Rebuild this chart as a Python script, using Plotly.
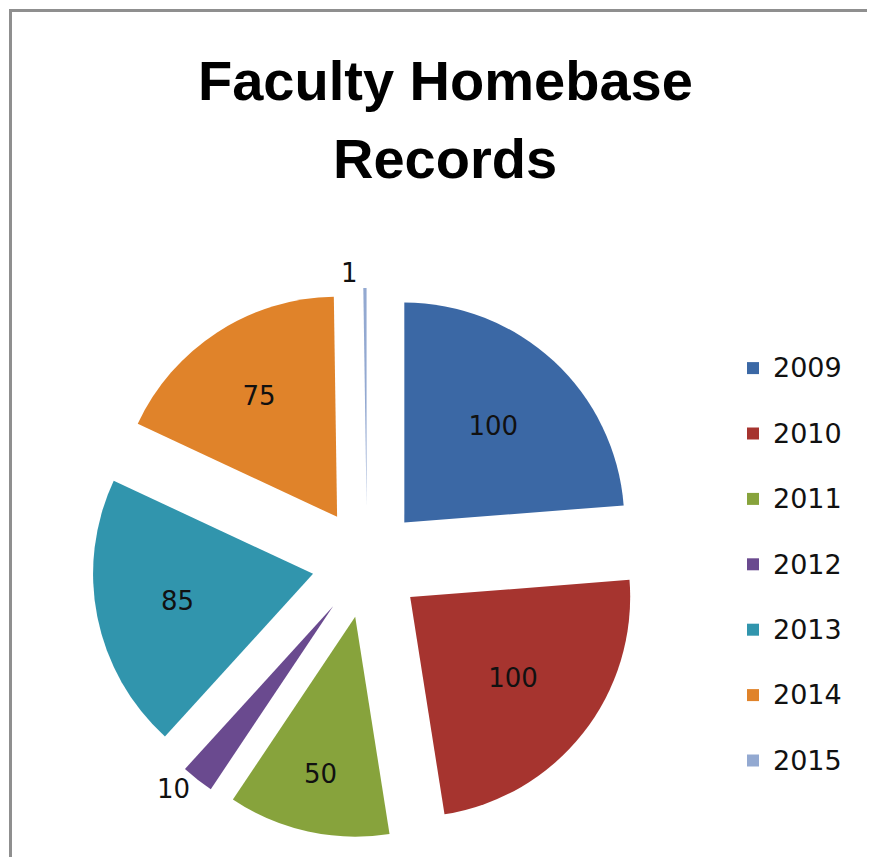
import plotly.graph_objects as go

years = ["2009", "2010", "2011", "2012", "2013", "2014", "2015"]
records = [100, 100, 50, 10, 85, 75, 1]
colors = ["#3B68A5", "#A6342F", "#87A33C", "#6A4A8F", "#3195AD", "#E0832A", "#93A9D1"]
label_pos = ["inside", "inside", "inside", "outside", "inside", "inside", "outside"]

# page body has an 8px margin, so the figure is sized to fit the window without scrolling
OFF = 8
W, H = 875 - OFF, 865 - 2 * OFF


def fx(px):
    return (px - OFF) / W


def fy(py):
    return 1 - (py - OFF) / H


legend_labels = [f"<span style='font-size:27px'>{y}</span><br> " for y in years]

fig = go.Figure(go.Pie(
    labels=legend_labels,
    values=records,
    sort=False,
    direction="clockwise",
    rotation=0,
    pull=0.25,
    marker=dict(colors=colors, line=dict(width=0)),
    textinfo="value",
    textposition=label_pos,
    insidetextorientation="horizontal",
    textfont=dict(family="DejaVu Sans", size=26, color="#111111"),
    insidetextfont=dict(family="DejaVu Sans", size=26, color="#111111"),
    outsidetextfont=dict(family="DejaVu Sans", size=26, color="#111111"),
    hoverinfo="label+value",
    domain=dict(x=[fx(92), fx(642)], y=[fy(838), fy(288)]),
))

fig.update_layout(
    width=W, height=H,
    margin=dict(l=0, r=0, t=0, b=0, autoexpand=False),
    paper_bgcolor="white",
    plot_bgcolor="white",
    showlegend=True,
    legend=dict(
        x=fx(733), y=fy(346), xanchor="left", yanchor="top",
        font=dict(family="DejaVu Sans", size=24, color="#111111"),
        valign="top",
        bgcolor="rgba(0,0,0,0)",
    ),
    annotations=[
        dict(text="<b>Faculty Homebase</b>", x=fx(445), y=fy(80), xref="paper", yref="paper",
             showarrow=False, xanchor="center", yanchor="middle",
             font=dict(family="Liberation Sans", size=56, color="#000000")),
        dict(text="<b>Records</b>", x=fx(445), y=fy(158), xref="paper", yref="paper",
             showarrow=False, xanchor="center", yanchor="middle",
             font=dict(family="Liberation Sans", size=56, color="#000000")),
    ],
    shapes=[
        dict(type="rect", xref="paper", yref="paper",
             x0=fx(10.5), x1=1.05, y0=-0.05, y1=fy(10.5),
             line=dict(color="#8f8f8f", width=3), fillcolor="rgba(0,0,0,0)", layer="below"),
    ],
)

fig.write_html("out.html")
